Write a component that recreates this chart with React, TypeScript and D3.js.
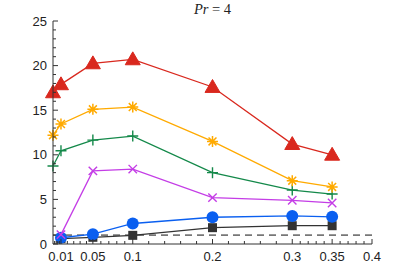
import React from "react";
import * as d3 from "d3";

const xTicks = [0.01, 0.05, 0.1, 0.2, 0.3, 0.35, 0.4];
const xTickLabels = ["0.01", "0.05", "0.1", "0.2", "0.3", "0.35", "0.4"];
const yTicks = [0, 5, 10, 15, 20, 25];

const xRed = [0, 0.01, 0.05, 0.1, 0.2, 0.3, 0.35];
const yRed = [17.0, 17.9, 20.25, 20.7, 17.6, 11.2, 10.0];
const xOrange = [0, 0.01, 0.05, 0.1, 0.2, 0.3, 0.35];
const yOrange = [12.2, 13.45, 15.1, 15.35, 11.5, 7.1, 6.4];
const xGreen = [0, 0.01, 0.05, 0.1, 0.2, 0.3, 0.35];
const yGreen = [8.75, 10.45, 11.65, 12.1, 8.0, 6.05, 5.6];
const xMagenta = [0.01, 0.05, 0.1, 0.2, 0.3, 0.35];
const yMagenta = [1.05, 8.2, 8.4, 5.2, 4.9, 4.6];
const xBlue = [0.01, 0.05, 0.1, 0.2, 0.3, 0.35];
const yBlue = [0.7, 1.1, 2.3, 3.0, 3.15, 3.05];
const xBlack = [0.01, 0.05, 0.1, 0.2, 0.3, 0.35];
const yBlack = [0.6, 0.75, 0.97, 1.83, 2.05, 2.05];
const refLevel = 1;

const W = 411, H = 274;
const M = { left: 53, right: 39, top: 21, bottom: 30 };

function Marker({ type, x, y, color }: { type: string; x: number; y: number; color: string }) {
  if (type === "tri") {
    const s = 7.5;
    return <path d={`M${x},${y - s}L${x + s},${y + s * 0.72}L${x - s},${y + s * 0.72}Z`} fill={color} stroke={color} strokeWidth={1} />;
  }
  if (type === "circle") return <circle cx={x} cy={y} r={6} fill={color} />;
  if (type === "square") return <rect x={x - 4.5} y={y - 4.5} width={9} height={9} fill={color} />;
  if (type === "plus") {
    const s = 5.5;
    return <path d={`M${x - s},${y}H${x + s}M${x},${y - s}V${y + s}`} stroke={color} strokeWidth={1.4} />;
  }
  if (type === "x") {
    const s = 4.2;
    return <path d={`M${x - s},${y - s}L${x + s},${y + s}M${x - s},${y + s}L${x + s},${y - s}`} stroke={color} strokeWidth={1.4} />;
  }
  if (type === "star") {
    const s = 5.5, d = s * 0.72;
    return <path d={`M${x - s},${y}H${x + s}M${x},${y - s}V${y + s}M${x - d},${y - d}L${x + d},${y + d}M${x - d},${y + d}L${x + d},${y - d}`} stroke={color} strokeWidth={1.5} />;
  }
  return null;
}

export default function App() {
  const x = d3.scaleLinear().domain([0, 0.4]).range([M.left, W - M.right]);
  const y = d3.scaleLinear().domain([0, 25]).range([H - M.bottom, M.top]);
  const series = [
    { xs: xBlack, ys: yBlack, color: "#333333", type: "square" },
    { xs: xBlue, ys: yBlue, color: "#0a5ff0", type: "circle" },
    { xs: xMagenta, ys: yMagenta, color: "#c43de6", type: "x" },
    { xs: xGreen, ys: yGreen, color: "#14894a", type: "plus" },
    { xs: xOrange, ys: yOrange, color: "#ffaa00", type: "star" },
    { xs: xRed, ys: yRed, color: "#d9281e", type: "tri" },
  ];
  const line = d3.line<[number, number]>().x((d) => x(d[0])).y((d) => y(d[1]));
  const majors = [0, ...xTicks];
  const xMinor: number[] = [];
  for (let i = 0; i < majors.length - 1; i++) {
    for (let k = 1; k < 5; k++) xMinor.push(majors[i] + ((majors[i + 1] - majors[i]) * k) / 5);
  }
  const yMinor = d3.range(0, 26, 1).filter((v) => v % 5 !== 0);
  const axisColor = "#333";
  const y0 = y(0);
  return (
    <svg width={W} height={H} style={{ position: "absolute", left: 0, top: 0, background: "#fff" }}>
      <text x={(x(0) + x(0.4)) / 2} y={14} textAnchor="middle" fontFamily="'Liberation Serif', 'DejaVu Serif', serif" fontSize={14.5} fill="#222">
        <tspan fontStyle="italic">Pr</tspan>
        <tspan> = 4</tspan>
      </text>
      <line x1={x(0)} x2={x(0.4)} y1={y(refLevel)} y2={y(refLevel)} stroke="#777" strokeWidth={1.6} strokeDasharray="7,5" />
      {series.map((s, i) => (
        <g key={i}>
          <path d={line(s.xs.map((v, j) => [v, s.ys[j]]) as [number, number][]) || ""} fill="none" stroke={s.color} strokeWidth={1.3} />
          {s.xs.map((v, j) => (
            <Marker key={j} type={s.type} x={x(v)} y={y(s.ys[j])} color={s.color} />
          ))}
        </g>
      ))}
      <line x1={x(0)} x2={x(0)} y1={y(0)} y2={y(25)} stroke={axisColor} strokeWidth={1} />
      <line x1={x(0)} x2={x(0.4)} y1={y0} y2={y0} stroke={axisColor} strokeWidth={1} />
      {yTicks.map((t) => (
        <g key={t}>
          <line x1={x(0)} x2={x(0) + 5} y1={y(t)} y2={y(t)} stroke={axisColor} />
          <text x={x(0) - 6} y={y(t) + 4.5} textAnchor="end" fontFamily="'Liberation Sans', Arial, sans-serif" fontSize={13} fill="#222">{t}</text>
        </g>
      ))}
      {yMinor.map((t) => (
        <line key={t} x1={x(0)} x2={x(0) + 3} y1={y(t)} y2={y(t)} stroke={axisColor} />
      ))}
      {xTicks.map((t, i) => (
        <g key={t}>
          <line x1={x(t)} x2={x(t)} y1={y0} y2={y0 - 5} stroke={axisColor} />
          <text x={x(t)} y={y0 + 17} textAnchor="middle" fontFamily="'Liberation Sans', Arial, sans-serif" fontSize={13} fill="#222">{xTickLabels[i]}</text>
        </g>
      ))}
      {xMinor.map((t, i) => (
        <line key={i} x1={x(t)} x2={x(t)} y1={y0} y2={y0 - 3} stroke={axisColor} />
      ))}
    </svg>
  );
}
